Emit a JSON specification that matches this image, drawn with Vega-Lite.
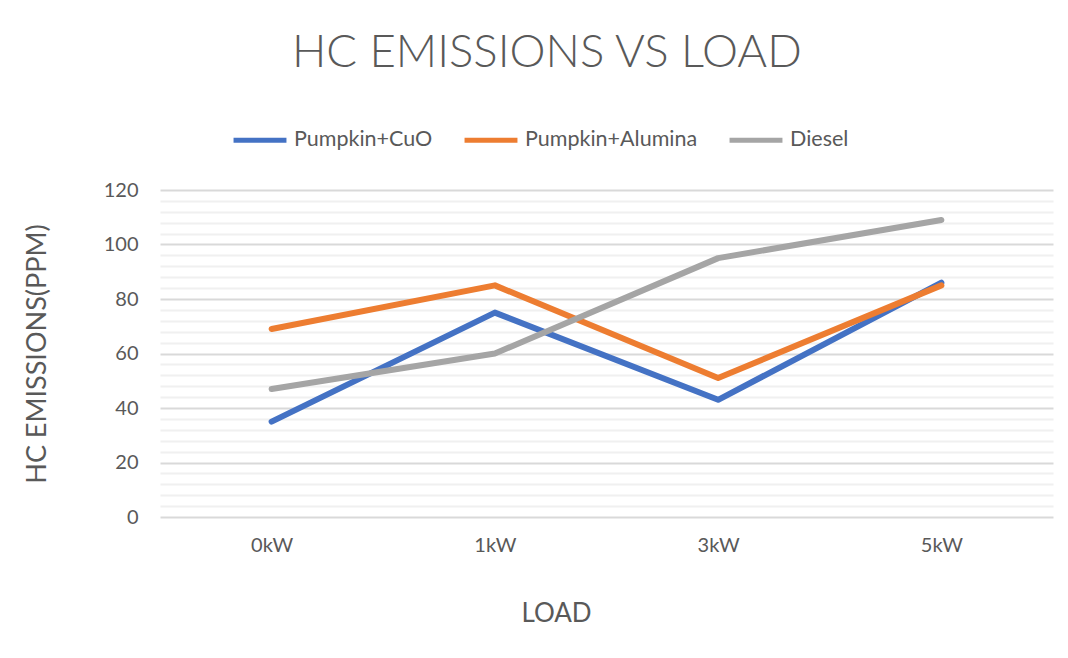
{
  "$schema": "https://vega.github.io/schema/vega-lite/v6.json",
  "width": 893,
  "height": 327,
  "autosize": {"type": "none"},
  "padding": {"left": 160, "top": 190, "right": 15, "bottom": 141},
  "background": "white",
  "title": {
    "text": "HC EMISSIONS VS LOAD",
    "font": "Lato",
    "fontWeight": 300,
    "fontSize": 45.5,
    "color": "#595959",
    "anchor": "start",
    "frame": "group",
    "dx": 132,
    "offset": 35
  },
  "data": {
    "values": [
      {"load": "0kW", "series": "Pumpkin+CuO", "hc": 35},
      {"load": "1kW", "series": "Pumpkin+CuO", "hc": 75},
      {"load": "3kW", "series": "Pumpkin+CuO", "hc": 43},
      {"load": "5kW", "series": "Pumpkin+CuO", "hc": 86},
      {"load": "0kW", "series": "Pumpkin+Alumina", "hc": 69},
      {"load": "1kW", "series": "Pumpkin+Alumina", "hc": 85},
      {"load": "3kW", "series": "Pumpkin+Alumina", "hc": 51},
      {"load": "5kW", "series": "Pumpkin+Alumina", "hc": 85},
      {"load": "0kW", "series": "Diesel", "hc": 47},
      {"load": "1kW", "series": "Diesel", "hc": 60},
      {"load": "3kW", "series": "Diesel", "hc": 95},
      {"load": "5kW", "series": "Diesel", "hc": 109}
    ]
  },
  "mark": {"type": "line", "strokeWidth": 6, "strokeCap": "round", "strokeJoin": "round"},
  "encoding": {
    "x": {
      "field": "load",
      "type": "ordinal",
      "sort": ["0kW", "1kW", "3kW", "5kW"],
      "scale": {"type": "point", "padding": 0.5},
      "axis": {
        "title": "LOAD",
        "titleFont": "Lato",
        "titleFontWeight": "normal",
        "titleFontSize": 26,
        "titleColor": "#595959",
        "titleX": 396,
        "titleY": 96,
        "titleBaseline": "middle",
        "labelFont": "Lato",
        "labelFontSize": 20,
        "labelColor": "#595959",
        "labelAngle": 0,
        "labelPadding": 28,
        "labelBaseline": "middle",
        "ticks": false,
        "domain": false,
        "grid": false
      }
    },
    "y": {
      "field": "hc",
      "type": "quantitative",
      "scale": {"domain": [0, 120], "nice": false},
      "axis": {
        "title": "HC EMISSIONS(PPM)",
        "titleFont": "Lato",
        "titleFontWeight": "normal",
        "titleFontSize": 27,
        "titleColor": "#595959",
        "titleX": -123,
        "titleBaseline": "middle",
        "values": [0, 4, 8, 12, 16, 20, 24, 28, 32, 36, 40, 44, 48, 52, 56, 60, 64, 68, 72, 76, 80, 84, 88, 92, 96, 100, 104, 108, 112, 116, 120],
        "labelExpr": "datum.value % 20 === 0 ? datum.label : ''",
        "labelFont": "Lato",
        "labelFontSize": 20,
        "labelColor": "#595959",
        "labelPadding": 22,
        "ticks": false,
        "domain": false,
        "grid": true,
        "gridWidth": 2,
        "gridColor": {"condition": {"test": "datum.value % 20 === 0", "value": "#d9d9d9"}, "value": "#f0f0f0"}
      }
    },
    "color": {
      "field": "series",
      "type": "nominal",
      "scale": {
        "domain": ["Pumpkin+CuO", "Pumpkin+Alumina", "Diesel"],
        "range": ["#4472C4", "#ED7D31", "#A5A5A5"]
      },
      "legend": {
        "title": null,
        "orient": "none",
        "legendX": 71,
        "legendY": -79,
        "direction": "horizontal",
        "symbolType": "stroke",
        "symbolStrokeWidth": 5,
        "symbolSize": 2800,
        "labelFont": "Lato",
        "labelFontSize": 21.5,
        "labelLimit": 0,
        "labelColor": "#595959",
        "columnPadding": 21,
        "labelOffset": 5
      }
    }
  },
  "config": {"view": {"stroke": null}}
}
